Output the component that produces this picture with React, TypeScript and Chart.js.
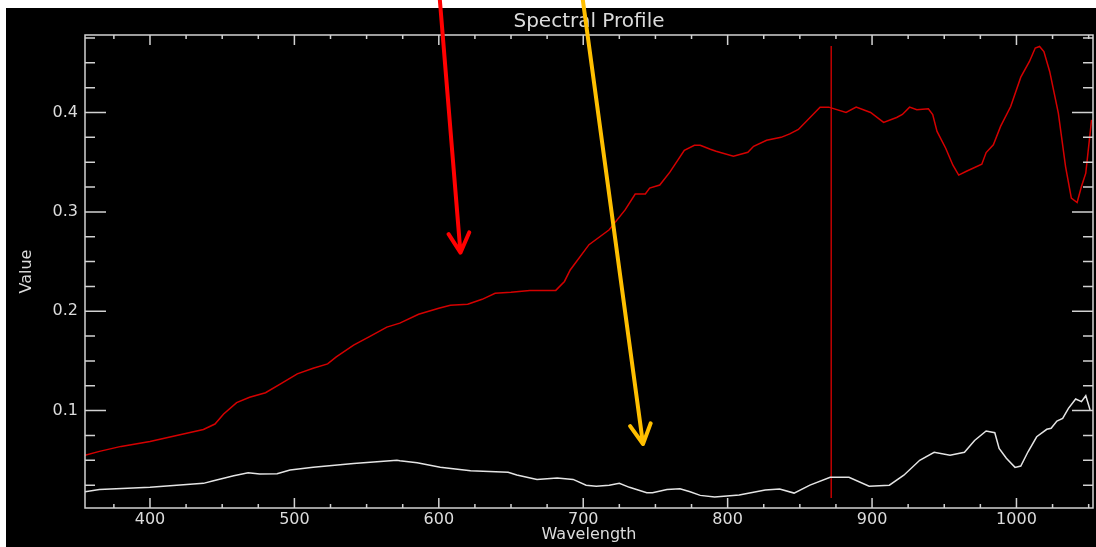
import React, { useEffect, useRef } from "react";
import { Chart, registerables } from "chart.js";

Chart.register(...registerables);

// ---- data ----
const redWavelengths = [355, 365, 380, 400, 420, 437, 445, 451, 460, 469, 480, 491, 502, 513, 523, 529, 541, 552, 564, 573, 586, 600, 608, 620, 630, 639, 650, 663, 681, 687, 691, 704, 718, 729, 736, 743, 746, 753, 760, 770, 777, 781, 788, 792, 804, 814, 818, 827, 837, 843, 849, 864, 870, 882, 889, 899, 908, 917, 921, 926, 931, 939, 942, 945, 951, 956, 960, 965, 976, 979, 984, 989, 996, 1003, 1009, 1013, 1016, 1019, 1023, 1029, 1034, 1038, 1042, 1045, 1048, 1052];
const redValues = [0.055, 0.059, 0.064, 0.069, 0.0755, 0.081, 0.0865, 0.0966, 0.108, 0.1134, 0.118, 0.1275, 0.137, 0.1426, 0.147, 0.154, 0.166, 0.1744, 0.184, 0.188, 0.197, 0.203, 0.206, 0.207, 0.212, 0.218, 0.219, 0.221, 0.221, 0.23, 0.2415, 0.267, 0.282, 0.302, 0.318, 0.318, 0.324, 0.327, 0.34, 0.362, 0.367, 0.367, 0.363, 0.361, 0.356, 0.36, 0.366, 0.372, 0.375, 0.3785, 0.383, 0.4054, 0.4054, 0.4, 0.4054, 0.4, 0.39, 0.395, 0.398, 0.4054, 0.4027, 0.4037, 0.398, 0.381, 0.364, 0.347, 0.337, 0.3406, 0.348, 0.3597, 0.3675, 0.386, 0.406, 0.4356, 0.4514, 0.4649, 0.4665, 0.4614, 0.4413, 0.3994, 0.3456, 0.3138, 0.3094, 0.3255, 0.339, 0.3926];

const whiteWavelengths = [355, 365, 400, 437, 444, 458, 468, 476, 488, 497, 513, 541, 571, 573, 585, 601, 622, 648, 654, 668, 682, 693, 702, 709, 718, 725, 732, 744, 748, 758, 767, 774, 781, 791, 808, 826, 836, 846, 857, 871, 884, 898, 912, 922, 933, 943, 954, 964, 971, 979, 985, 988, 993, 999, 1003, 1008, 1014, 1021, 1024, 1028, 1032, 1036, 1041, 1045, 1048, 1051];
const whiteValues = [0.0183, 0.0207, 0.0228, 0.0268, 0.0294, 0.0344, 0.0375, 0.0362, 0.0365, 0.0402, 0.0429, 0.0469, 0.05, 0.0495, 0.0475, 0.0429, 0.0395, 0.0379, 0.0352, 0.0308, 0.0321, 0.0308, 0.025, 0.024, 0.025, 0.0268, 0.0228, 0.0173, 0.0173, 0.0207, 0.0213, 0.0183, 0.0147, 0.013, 0.015, 0.02, 0.021, 0.017, 0.025, 0.033, 0.033, 0.024, 0.025, 0.035, 0.05, 0.058, 0.055, 0.058, 0.07, 0.0795, 0.0778, 0.062, 0.052, 0.0429, 0.0442, 0.0586, 0.0737, 0.0812, 0.0822, 0.0895, 0.0922, 0.1023, 0.1117, 0.109, 0.115, 0.1006];

const cursorWavelengths = [871.7, 871.7];
const cursorValues = [0.012, 0.467];

const xTickValues = [400, 500, 600, 700, 800, 900, 1000];
const yTickValues = [0.1, 0.2, 0.3, 0.4];

// annotation arrows (data coordinates: [x0, y0, x1, y1])
const redArrow = [600.7, 0.5135, 615, 0.259];
const orangeArrow = [699.7, 0.5135, 741.4, 0.0664];

const X_MIN = 355;
const X_MAX = 1053;
const Y_MIN = 0.002;
const Y_MAX = 0.478;
const X_MINOR = 25;
const Y_MINOR = 0.025;

const AXIS_COLOR = "#d2d2d2";
const TEXT_COLOR = "#dcdcdc";
const FONT = "'DejaVu Sans', sans-serif";

const toPoints = (xs: number[], ys: number[]) => xs.map((x, i) => ({ x, y: ys[i] }));

function drawArrow(ctx: CanvasRenderingContext2D, x0: number, y0: number, x1: number, y1: number, color: string) {
  ctx.save();
  ctx.strokeStyle = color;
  ctx.lineWidth = 4;
  ctx.lineCap = "round";
  ctx.lineJoin = "round";
  ctx.beginPath();
  ctx.moveTo(x0, y0);
  ctx.lineTo(x1, y1);
  const ang = Math.atan2(y1 - y0, x1 - x0);
  const L = 22;
  const spread = (28 * Math.PI) / 180;
  ctx.moveTo(x1 - L * Math.cos(ang - spread), y1 - L * Math.sin(ang - spread));
  ctx.lineTo(x1, y1);
  ctx.lineTo(x1 - L * Math.cos(ang + spread), y1 - L * Math.sin(ang + spread));
  ctx.stroke();
  ctx.restore();
}

const idlBoxPlugin = {
  id: "idlBox",
  afterDatasetsDraw(chart: any) {
    const { ctx, chartArea, scales } = chart;
    const { left, right, top, bottom } = chartArea;
    const x = scales.x;
    const y = scales.y;
    ctx.save();
    ctx.strokeStyle = AXIS_COLOR;
    ctx.lineWidth = 1.5;
    ctx.strokeRect(left, top, right - left, bottom - top);
    ctx.beginPath();
    for (let i = Math.ceil(x.min / X_MINOR); i * X_MINOR <= x.max; i++) {
      const px = x.getPixelForValue(i * X_MINOR);
      const len = i % 4 === 0 ? 10 : 4;
      ctx.moveTo(px, bottom);
      ctx.lineTo(px, bottom - len);
      ctx.moveTo(px, top);
      ctx.lineTo(px, top + len);
    }
    for (let i = Math.ceil(y.min / Y_MINOR - 1e-9); i * Y_MINOR <= y.max + 1e-9; i++) {
      const py = y.getPixelForValue(i * Y_MINOR);
      const len = i % 4 === 0 ? 21 : 10;
      ctx.moveTo(left, py);
      ctx.lineTo(left + len, py);
      ctx.moveTo(right, py);
      ctx.lineTo(right - len, py);
    }
    ctx.stroke();
    ctx.restore();
  },
  afterDraw(chart: any) {
    const { ctx, scales } = chart;
    const x = scales.x;
    const y = scales.y;
    const arrows: [number[], string][] = [
      [redArrow, "#ff0000"],
      [orangeArrow, "#ffbf00"],
    ];
    for (const [a, color] of arrows) {
      drawArrow(
        ctx,
        x.getPixelForValue(a[0]),
        y.getPixelForValue(a[1]),
        x.getPixelForValue(a[2]),
        y.getPixelForValue(a[3]),
        color
      );
    }
  },
};

export default function App() {
  const canvasRef = useRef<HTMLCanvasElement | null>(null);

  useEffect(() => {
    if (!canvasRef.current) return;
    const chart = new Chart(canvasRef.current, {
      type: "line",
      data: {
        datasets: [
          {
            data: toPoints(redWavelengths, redValues),
            borderColor: "#d40000",
            borderWidth: 1.5,
            pointRadius: 0,
            tension: 0,
          },
          {
            data: toPoints(whiteWavelengths, whiteValues),
            borderColor: "#e4e4e4",
            borderWidth: 1.5,
            pointRadius: 0,
            tension: 0,
          },
          {
            data: toPoints(cursorWavelengths, cursorValues),
            borderColor: "#f00000",
            borderWidth: 1.2,
            pointRadius: 0,
          },
        ],
      },
      options: {
        animation: false,
        responsive: false,
        layout: { padding: { top: 0, left: 0, right: 3, bottom: 0 } },
        plugins: {
          legend: { display: false },
          tooltip: { enabled: false },
          title: {
            display: true,
            text: "Spectral Profile",
            color: TEXT_COLOR,
            fullSize: false,
            font: { family: FONT, size: 20, weight: "normal" },
            padding: { top: 10, bottom: 1 },
          },
        },
        scales: {
          x: {
            type: "linear",
            min: X_MIN,
            max: X_MAX,
            grid: { display: false, drawTicks: false },
            border: { display: false },
            afterBuildTicks: (scale: any) => {
              scale.ticks = xTickValues.map((v) => ({ value: v }));
            },
            afterFit: (scale: any) => {
              scale.height = 39;
            },
            ticks: {
              color: TEXT_COLOR,
              font: { family: FONT, size: 16 },
              padding: 2,
              maxRotation: 0,
              autoSkip: false,
              callback: (v: any) => String(v),
            },
            title: {
              display: true,
              text: "Wavelength",
              color: TEXT_COLOR,
              font: { family: FONT, size: 16 },
              padding: { top: 0, bottom: 3 },
            },
          },
          y: {
            type: "linear",
            min: Y_MIN,
            max: Y_MAX,
            grid: { display: false, drawTicks: false },
            border: { display: false },
            afterBuildTicks: (scale: any) => {
              scale.ticks = yTickValues.map((v) => ({ value: v }));
            },
            afterFit: (scale: any) => {
              scale.width = 85;
            },
            ticks: {
              color: TEXT_COLOR,
              font: { family: FONT, size: 16 },
              padding: 7,
              autoSkip: false,
              callback: (v: any) => Number(v).toFixed(1),
            },
            title: {
              display: true,
              text: "Value",
              color: TEXT_COLOR,
              font: { family: FONT, size: 16 },
              padding: { top: 17, bottom: 0 },
            },
          },
        },
      } as any,
      plugins: [idlBoxPlugin],
    });
    return () => chart.destroy();
  }, []);

  return (
    <div style={{ position: "fixed", left: 0, top: 0, width: 1096, height: 547, background: "#ffffff", overflow: "hidden" }}>
      <div style={{ position: "absolute", left: 6, top: 8, right: 0, bottom: 0, background: "#000000" }} />
      <canvas
        ref={canvasRef}
        width={1096}
        height={547}
        style={{ position: "absolute", left: 0, top: 0, width: 1096, height: 547 }}
      />
    </div>
  );
}
